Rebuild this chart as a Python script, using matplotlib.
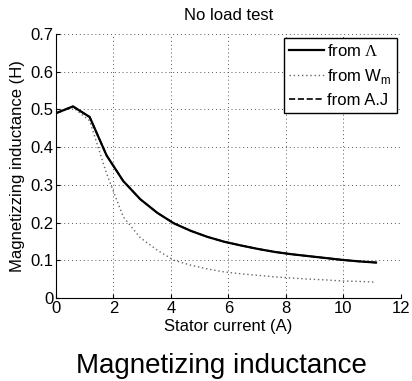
import matplotlib
matplotlib.use("Agg")
import matplotlib.pyplot as plt

plt.rcParams['font.family'] = ['Liberation Sans', 'DejaVu Sans']
plt.rcParams['mathtext.fontset'] = 'custom'
plt.rcParams['mathtext.rm'] = 'Liberation Serif'
plt.rcParams['mathtext.sf'] = 'Liberation Sans'

current = [0.0, 0.59, 1.17, 1.76, 2.34, 2.93, 3.52, 4.10, 4.69, 5.27,
           5.86, 6.45, 7.03, 7.62, 8.20, 8.79, 9.38, 9.96, 10.55, 11.13]
L_lambda = [0.490, 0.508, 0.480, 0.378, 0.310, 0.262, 0.226, 0.198, 0.178, 0.162,
            0.149, 0.139, 0.130, 0.122, 0.116, 0.111, 0.106, 0.101, 0.097, 0.094]
L_wm = [0.490, 0.505, 0.470, 0.330, 0.215, 0.160, 0.127, 0.100, 0.087, 0.077,
        0.069, 0.064, 0.060, 0.056, 0.053, 0.050, 0.048, 0.045, 0.044, 0.042]
L_aj = L_lambda

xticks = [0, 2, 4, 6, 8, 10, 12]
yticks = [0, 0.1, 0.2, 0.3, 0.4, 0.5, 0.6, 0.7]
ytick_labels = ['0', '0.1', '0.2', '0.3', '0.4', '0.5', '0.6', '0.7']

fig = plt.figure(figsize=(4.12, 3.81), dpi=100)
ax = fig.add_axes([56/412, 1-298/381, (401-56)/412, (298-34)/381])

ax.plot(current, L_aj, color='black', lw=1.2, ls='--', label='from A.J', zorder=2)
ax.plot(current, L_lambda, color='black', lw=1.6, ls='-', label=r'from $\mathrm{\Lambda}$', zorder=3)
ax.plot(current, L_wm, color='#666666', lw=1.0, ls=(0, (1, 2)),
        label=r'from W$_{\mathsf{m}}$', zorder=2)

ax.set_xlim(0, 12)
ax.set_ylim(0, 0.7)
ax.set_xticks(xticks)
ax.set_yticks(yticks)
ax.set_yticklabels(ytick_labels)
ax.tick_params(direction='in', labelsize=12, length=3, pad=2)
ax.grid(True, ls=(0, (1, 3)), color='#555555', lw=0.7)
ax.spines['top'].set_visible(False)
ax.spines['right'].set_visible(False)

ax.set_title('No load test', fontsize=12, pad=10)
ax.set_xlabel('Stator current (A)', fontsize=12, labelpad=2)
ax.set_ylabel('Magnetizzing inductance (H)', fontsize=12, labelpad=4)

handles, labels = ax.get_legend_handles_labels()
order = [1, 2, 0]
leg = ax.legend([handles[i] for i in order], [labels[i] for i in order],
                loc='upper right', fontsize=12, frameon=True, fancybox=False,
                edgecolor='black', framealpha=1, handlelength=2.1,
                handletextpad=0.2, borderpad=0.3, labelspacing=0.45,
                borderaxespad=0.25)
leg.get_frame().set_linewidth(1.0)

fig.text(221/412, 1-366/381, 'Magnetizing inductance', fontsize=20,
         ha='center', va='center')

fig.savefig('out.png', dpi=100)
